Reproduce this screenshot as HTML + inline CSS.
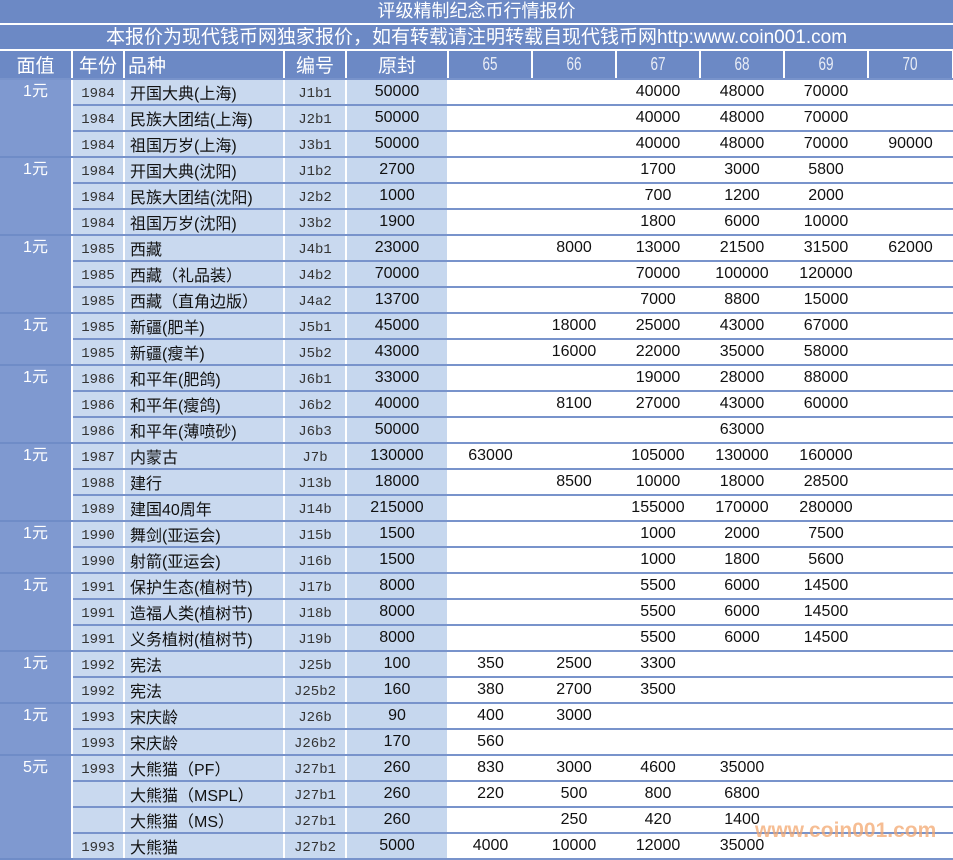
<!DOCTYPE html>
<html><head><meta charset="utf-8"><style>
body{margin:0;width:953px;height:859px;overflow:hidden;background:#fff;font-family:"Liberation Sans","Noto Sans CJK SC",sans-serif;position:relative}
.t1{position:absolute;left:0;top:0;width:953px;height:23px;background:#6c89c5;color:#fff;font-size:18px;line-height:23px;text-align:center;border-bottom:2px solid #fff}
.t2{position:absolute;left:0;top:25px;width:953px;height:24px;background:#6c89c5;color:#fff;font-size:19px;line-height:26px;text-align:center;border-bottom:2px solid #fff}
table{position:absolute;left:0;top:51px;border-collapse:collapse;table-layout:fixed;width:953px}
td{height:24px;padding:0;border-bottom:2px solid #7893cb;border-right:2px solid #fff;font-size:15px;text-align:center;color:#111;white-space:nowrap;overflow:hidden}
tr.h td{background:#6c89c5;color:#fff;font-size:19px;border-bottom:2px solid #7893cb}
tr.h td.n span{display:inline-block;color:#e8ecf5;font-size:18px;transform:scaleX(.75)}
td.f{background:#7f99d0;color:#fff;vertical-align:top;font-size:16px;line-height:24px;border-bottom:2px solid #6f8cc7}
td.y{background:#c9d9ef;font-family:"Liberation Mono","Noto Sans CJK SC",monospace;font-size:14px;color:#333;padding-top:3px;height:21px}
td.p{background:#c9d9ef;text-align:left;padding-left:5px;font-size:16px}
td.c{background:#c9d9ef;font-family:"Liberation Mono",monospace;font-size:14px;color:#333;padding-top:3px;height:21px}
td.o{background:#c6d7ee;font-size:16px}
td.v{border-right:none;font-size:16px}
.wm{position:absolute;left:755px;top:819px;color:#f3a86f;opacity:.75;font-weight:bold;font-size:21px;font-family:"Liberation Sans",sans-serif}
</style></head><body>
<div class="t1">评级精制纪念币行情报价</div>
<div class="t2">本报价为现代钱币网独家报价，如有转载请注明转载自现代钱币网http:www.coin001.com</div>
<table>
<colgroup><col style="width:72px"><col style="width:52px"><col style="width:160px"><col style="width:62px"><col style="width:102px"><col style="width:84px"><col style="width:84px"><col style="width:84px"><col style="width:84px"><col style="width:84px"><col style="width:85px"></colgroup>
<tr class="h"><td>面值</td><td>年份</td><td style="text-align:left;padding-left:3px">品种</td><td>编号</td><td>原封</td><td class="n"><span>65</span></td><td class="n"><span>66</span></td><td class="n"><span>67</span></td><td class="n"><span>68</span></td><td class="n"><span>69</span></td><td class="n"><span>70</span></td></tr>
<tr><td class="f" rowspan="3">1元</td><td class="y">1984</td><td class="p">开国大典(上海)</td><td class="c">J1b1</td><td class="o">50000</td><td class="v"></td><td class="v"></td><td class="v">40000</td><td class="v">48000</td><td class="v">70000</td><td class="v"></td></tr>
<tr><td class="y">1984</td><td class="p">民族大团结(上海)</td><td class="c">J2b1</td><td class="o">50000</td><td class="v"></td><td class="v"></td><td class="v">40000</td><td class="v">48000</td><td class="v">70000</td><td class="v"></td></tr>
<tr><td class="y">1984</td><td class="p">祖国万岁(上海)</td><td class="c">J3b1</td><td class="o">50000</td><td class="v"></td><td class="v"></td><td class="v">40000</td><td class="v">48000</td><td class="v">70000</td><td class="v">90000</td></tr>
<tr><td class="f" rowspan="3">1元</td><td class="y">1984</td><td class="p">开国大典(沈阳)</td><td class="c">J1b2</td><td class="o">2700</td><td class="v"></td><td class="v"></td><td class="v">1700</td><td class="v">3000</td><td class="v">5800</td><td class="v"></td></tr>
<tr><td class="y">1984</td><td class="p">民族大团结(沈阳)</td><td class="c">J2b2</td><td class="o">1000</td><td class="v"></td><td class="v"></td><td class="v">700</td><td class="v">1200</td><td class="v">2000</td><td class="v"></td></tr>
<tr><td class="y">1984</td><td class="p">祖国万岁(沈阳)</td><td class="c">J3b2</td><td class="o">1900</td><td class="v"></td><td class="v"></td><td class="v">1800</td><td class="v">6000</td><td class="v">10000</td><td class="v"></td></tr>
<tr><td class="f" rowspan="3">1元</td><td class="y">1985</td><td class="p">西藏</td><td class="c">J4b1</td><td class="o">23000</td><td class="v"></td><td class="v">8000</td><td class="v">13000</td><td class="v">21500</td><td class="v">31500</td><td class="v">62000</td></tr>
<tr><td class="y">1985</td><td class="p">西藏（礼品装）</td><td class="c">J4b2</td><td class="o">70000</td><td class="v"></td><td class="v"></td><td class="v">70000</td><td class="v">100000</td><td class="v">120000</td><td class="v"></td></tr>
<tr><td class="y">1985</td><td class="p">西藏（直角边版）</td><td class="c">J4a2</td><td class="o">13700</td><td class="v"></td><td class="v"></td><td class="v">7000</td><td class="v">8800</td><td class="v">15000</td><td class="v"></td></tr>
<tr><td class="f" rowspan="2">1元</td><td class="y">1985</td><td class="p">新疆(肥羊)</td><td class="c">J5b1</td><td class="o">45000</td><td class="v"></td><td class="v">18000</td><td class="v">25000</td><td class="v">43000</td><td class="v">67000</td><td class="v"></td></tr>
<tr><td class="y">1985</td><td class="p">新疆(瘦羊)</td><td class="c">J5b2</td><td class="o">43000</td><td class="v"></td><td class="v">16000</td><td class="v">22000</td><td class="v">35000</td><td class="v">58000</td><td class="v"></td></tr>
<tr><td class="f" rowspan="3">1元</td><td class="y">1986</td><td class="p">和平年(肥鸽)</td><td class="c">J6b1</td><td class="o">33000</td><td class="v"></td><td class="v"></td><td class="v">19000</td><td class="v">28000</td><td class="v">88000</td><td class="v"></td></tr>
<tr><td class="y">1986</td><td class="p">和平年(瘦鸽)</td><td class="c">J6b2</td><td class="o">40000</td><td class="v"></td><td class="v">8100</td><td class="v">27000</td><td class="v">43000</td><td class="v">60000</td><td class="v"></td></tr>
<tr><td class="y">1986</td><td class="p">和平年(薄喷砂)</td><td class="c">J6b3</td><td class="o">50000</td><td class="v"></td><td class="v"></td><td class="v"></td><td class="v">63000</td><td class="v"></td><td class="v"></td></tr>
<tr><td class="f" rowspan="3">1元</td><td class="y">1987</td><td class="p">内蒙古</td><td class="c">J7b</td><td class="o">130000</td><td class="v">63000</td><td class="v"></td><td class="v">105000</td><td class="v">130000</td><td class="v">160000</td><td class="v"></td></tr>
<tr><td class="y">1988</td><td class="p">建行</td><td class="c">J13b</td><td class="o">18000</td><td class="v"></td><td class="v">8500</td><td class="v">10000</td><td class="v">18000</td><td class="v">28500</td><td class="v"></td></tr>
<tr><td class="y">1989</td><td class="p">建国40周年</td><td class="c">J14b</td><td class="o">215000</td><td class="v"></td><td class="v"></td><td class="v">155000</td><td class="v">170000</td><td class="v">280000</td><td class="v"></td></tr>
<tr><td class="f" rowspan="2">1元</td><td class="y">1990</td><td class="p">舞剑(亚运会)</td><td class="c">J15b</td><td class="o">1500</td><td class="v"></td><td class="v"></td><td class="v">1000</td><td class="v">2000</td><td class="v">7500</td><td class="v"></td></tr>
<tr><td class="y">1990</td><td class="p">射箭(亚运会)</td><td class="c">J16b</td><td class="o">1500</td><td class="v"></td><td class="v"></td><td class="v">1000</td><td class="v">1800</td><td class="v">5600</td><td class="v"></td></tr>
<tr><td class="f" rowspan="3">1元</td><td class="y">1991</td><td class="p">保护生态(植树节)</td><td class="c">J17b</td><td class="o">8000</td><td class="v"></td><td class="v"></td><td class="v">5500</td><td class="v">6000</td><td class="v">14500</td><td class="v"></td></tr>
<tr><td class="y">1991</td><td class="p">造福人类(植树节)</td><td class="c">J18b</td><td class="o">8000</td><td class="v"></td><td class="v"></td><td class="v">5500</td><td class="v">6000</td><td class="v">14500</td><td class="v"></td></tr>
<tr><td class="y">1991</td><td class="p">义务植树(植树节)</td><td class="c">J19b</td><td class="o">8000</td><td class="v"></td><td class="v"></td><td class="v">5500</td><td class="v">6000</td><td class="v">14500</td><td class="v"></td></tr>
<tr><td class="f" rowspan="2">1元</td><td class="y">1992</td><td class="p">宪法</td><td class="c">J25b</td><td class="o">100</td><td class="v">350</td><td class="v">2500</td><td class="v">3300</td><td class="v"></td><td class="v"></td><td class="v"></td></tr>
<tr><td class="y">1992</td><td class="p">宪法</td><td class="c">J25b2</td><td class="o">160</td><td class="v">380</td><td class="v">2700</td><td class="v">3500</td><td class="v"></td><td class="v"></td><td class="v"></td></tr>
<tr><td class="f" rowspan="2">1元</td><td class="y">1993</td><td class="p">宋庆龄</td><td class="c">J26b</td><td class="o">90</td><td class="v">400</td><td class="v">3000</td><td class="v"></td><td class="v"></td><td class="v"></td><td class="v"></td></tr>
<tr><td class="y">1993</td><td class="p">宋庆龄</td><td class="c">J26b2</td><td class="o">170</td><td class="v">560</td><td class="v"></td><td class="v"></td><td class="v"></td><td class="v"></td><td class="v"></td></tr>
<tr><td class="f" rowspan="4">5元</td><td class="y">1993</td><td class="p">大熊猫（PF）</td><td class="c">J27b1</td><td class="o">260</td><td class="v">830</td><td class="v">3000</td><td class="v">4600</td><td class="v">35000</td><td class="v"></td><td class="v"></td></tr>
<tr><td class="y"></td><td class="p">大熊猫（MSPL）</td><td class="c">J27b1</td><td class="o">260</td><td class="v">220</td><td class="v">500</td><td class="v">800</td><td class="v">6800</td><td class="v"></td><td class="v"></td></tr>
<tr><td class="y"></td><td class="p">大熊猫（MS）</td><td class="c">J27b1</td><td class="o">260</td><td class="v"></td><td class="v">250</td><td class="v">420</td><td class="v">1400</td><td class="v"></td><td class="v"></td></tr>
<tr><td class="y">1993</td><td class="p">大熊猫</td><td class="c">J27b2</td><td class="o">5000</td><td class="v">4000</td><td class="v">10000</td><td class="v">12000</td><td class="v">35000</td><td class="v"></td><td class="v"></td></tr>
</table>
<div class="wm">www.coin001.com</div>
</body></html>
